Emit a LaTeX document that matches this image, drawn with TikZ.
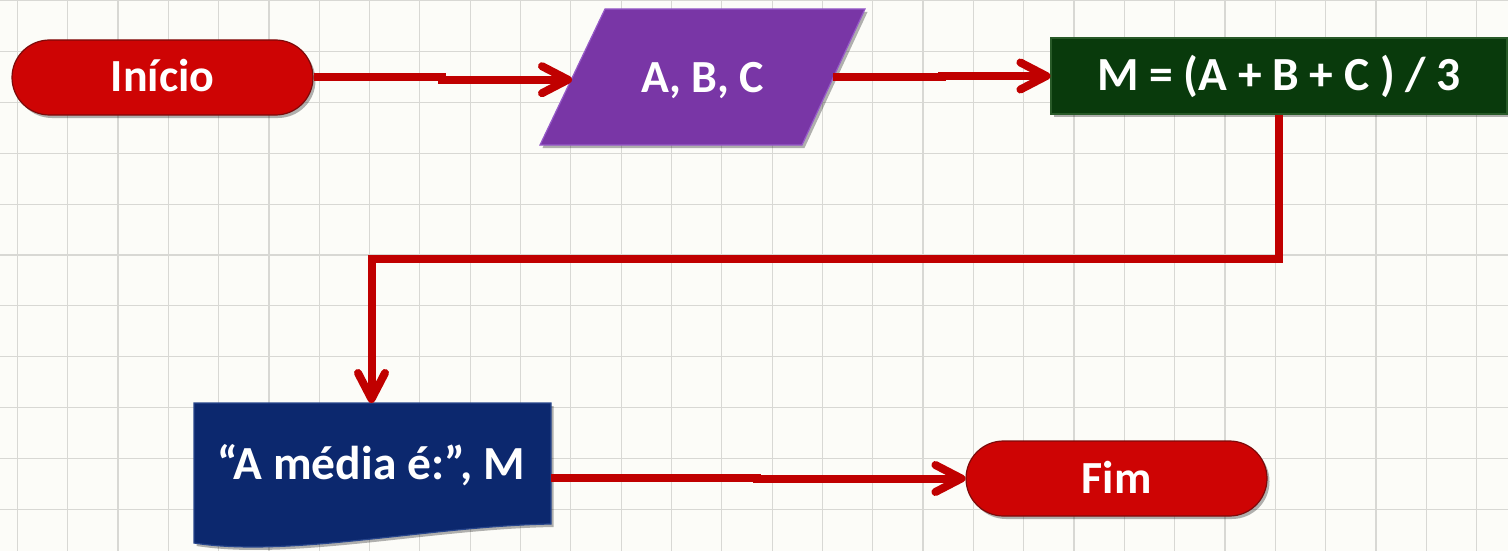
\documentclass[tikz,border=0pt]{standalone}
\usepackage{fontspec}
\setmainfont{Carlito}
\usetikzlibrary{shapes.misc,arrows.meta,shadows}
\definecolor{bgcol}{RGB}{252,252,248}
\definecolor{gridcol}{RGB}{216,216,212}
\definecolor{pillred}{RGB}{206,4,4}
\definecolor{pilledge}{RGB}{125,10,10}
\definecolor{arrowred}{RGB}{192,0,0}
\definecolor{purplefill}{RGB}{121,54,166}
\definecolor{purpleedge}{RGB}{150,90,200}
\definecolor{greenfill}{RGB}{9,58,12}
\definecolor{greenedge}{RGB}{40,90,40}
\definecolor{bluefill}{RGB}{12,40,110}
\definecolor{blueedge}{RGB}{40,70,140}
\begin{document}
\begin{tikzpicture}[x=1pt,y=-1pt,
  lbl/.style={text=white, font=\bfseries\fontsize{46}{50}\selectfont,
    text height=29pt, text depth=0pt, inner sep=0pt},
  biglbl/.style={lbl, font=\bfseries\fontsize{47.5}{50}\selectfont},
  shad/.style={drop shadow={shadow xshift=2.5pt,shadow yshift=-3pt,opacity=0.3,fill=black}},
  pill/.style={lbl, shad, rounded rectangle, fill=pillred, draw=pilledge,
    line width=1.2pt, minimum width=301pt, minimum height=75pt},
  procbox/.style={biglbl, shad, rectangle, fill=greenfill, draw=greenedge,
    line width=1.2pt, minimum width=456pt, minimum height=76pt},
  conn/.style={draw=arrowred, line width=8pt,
    -{Straight Barb[length=26pt,width=27pt,round]}},
  gridline/.style={draw=gridcol, line width=1.2pt}
]
\useasboundingbox (0,0) rectangle (1508,551);
\fill[bgcol] (0,0) rectangle (1508,551);
\foreach \i in {0,...,29} \draw[gridline] ({17.3+50.32*\i},0) -- ++(0,551);
\foreach \j in {0,...,10} \draw[gridline] (0,{0.75+50.85*\j}) -- ++(1508,0);

% shapes
\node[pill] (inicio) at (162.5,77.5) {Início};
\filldraw[purplefill, draw=purpleedge, line width=1.2pt, shad]
  (605,9) -- (865,9) -- (802,145) -- (540,145) -- cycle;
\node[lbl] (abc) at (702.5,78) {A, B, C};
\coordinate (abcin) at (572,79.7);
\coordinate (abcout) at (833,76.7);
\node[procbox] (calc) at (1279,76) {M = (A + B + C ) / 3};
\filldraw[bluefill, draw=blueedge, line width=1.2pt, shad]
  (194,403) -- (551,403) -- (551,524)
  .. controls (430,526) and (290,558) .. (194,543) -- cycle;
\node[biglbl] (doc) at (371,465) {“A média é:”, M};
\coordinate (docin) at (371.5,403);
\coordinate (docout) at (551,477.5);
\node[pill] (fim) at (1116.5,478.5) {Fim};

% connectors
\draw[conn] (inicio.east) -- ++(128,0) |- (abcin);
\draw[conn] (abcout) -- ++(109,0) |- (calc.west);
\draw[conn] (calc.south) -- ++(0,144) -| (docin);
\draw[conn] (docout) -- ++(206,0) |- (fim.west);
\end{tikzpicture}
\end{document}
